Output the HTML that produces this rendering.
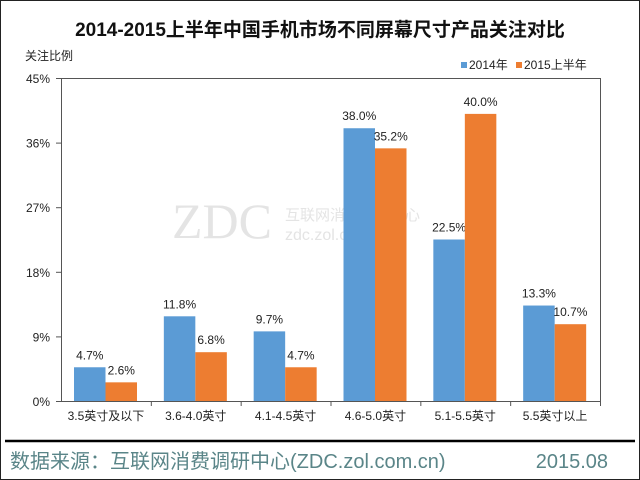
<!DOCTYPE html>
<html><head><meta charset="utf-8"><style>
body{margin:0;background:#fff}
#c{position:relative;width:640px;height:480px;overflow:hidden;font-family:"Liberation Sans","Noto Sans CJK SC",sans-serif}
</style></head><body>
<div id="c">
<svg width="640" height="480" id="svg">
<rect x="0.5" y="0.5" width="639" height="479" fill="#fff" stroke="#222"/>
<text x="320" y="36" text-anchor="middle" font-size="19" font-weight="bold" fill="#111">2014-2015上半年中国手机市场不同屏幕尺寸产品关注对比</text>
<text x="25" y="60" font-size="12" fill="#222">关注比例</text>
<rect x="461" y="62" width="6" height="6" fill="#5b9bd5"/>
<text x="469" y="69" font-size="12" fill="#222">2014年</text>
<rect x="516" y="62" width="6" height="6" fill="#ed7d31"/>
<text x="524" y="69" font-size="12" fill="#222">2015上半年</text>
<g fill="#e4e4e4">
<text x="172" y="238" font-size="50" font-family="Liberation Serif, serif">ZDC</text>
<text x="285" y="220" font-size="15">互联网消费调研中心</text>
<text x="285" y="240" font-size="16">zdc.zol.com.cn</text>
</g>
<rect x="61.5" y="78.5" width="539" height="323" fill="none" stroke="#555"/>
<g id="g"></g>
<line x1="5" y1="441" x2="635" y2="441" stroke="#000" stroke-width="2.5"/>
<text x="10" y="468" font-size="20" fill="#5a8588">数据来源：互联网消费调研中心(ZDC.zol.com.cn)</text>
<text x="608" y="468" text-anchor="end" font-size="20" fill="#5a8588">2015.08</text>
</svg>
</div>
<script>
const categories=["3.5英寸及以下","3.6-4.0英寸","4.1-4.5英寸","4.6-5.0英寸","5.1-5.5英寸","5.5英寸以上"];
const series2014=[4.7,11.8,9.7,38.0,22.5,13.3];
const series2015=[2.6,6.8,4.7,35.2,40.0,10.7];
const yTicks=[0,9,18,27,36,45];
const L=61,R=600,T=78,B=401,ymax=45;
const y=v=>B-(v/ymax)*(B-T);
const cw=(R-L)/categories.length;
const g=document.getElementById('g');
const NS="http://www.w3.org/2000/svg";
function mk(t,a){const e=document.createElementNS(NS,t);for(const k in a)e.setAttribute(k,a[k]);g.appendChild(e);return e;}
yTicks.forEach(t=>{
 const l=mk('line',{x1:L-5,x2:L,y1:y(t)+.5,y2:y(t)+.5,stroke:'#555'});
 
 
 const tx=mk('text',{x:L-11,y:y(t)+5,'text-anchor':'end','font-size':12,fill:'#222'});
 tx.textContent=t+'%';
 
 
});
categories.forEach((c,i)=>{
 const x0=L+i*cw;
 const tk=mk('line',{x1:x0+cw+.5,x2:x0+cw+.5,y1:B,y2:B+5,stroke:'#555'});
 
 
 const bw=31.5,bx=x0+13;
 [[series2014[i],'#5b9bd5','bar-2014'],[series2015[i],'#ed7d31','bar-2015h1']].forEach((s,j)=>{
  const x=bx+j*bw;
  const r=mk('rect',{x:x,y:y(s[0]),width:bw,height:B-y(s[0]),fill:s[1]});
  
  
  const lb=mk('text',{x:x+bw/2,y:y(s[0])-8,'text-anchor':'middle','font-size':12,fill:'#222'});
  lb.textContent=s[0].toFixed(1)+'%';
  
  
 });
 const xl=mk('text',{x:x0+cw/2,y:B+19,'text-anchor':'middle','font-size':12,fill:'#222'});
 xl.textContent=c;
 
 
});
</script>
</body></html>
